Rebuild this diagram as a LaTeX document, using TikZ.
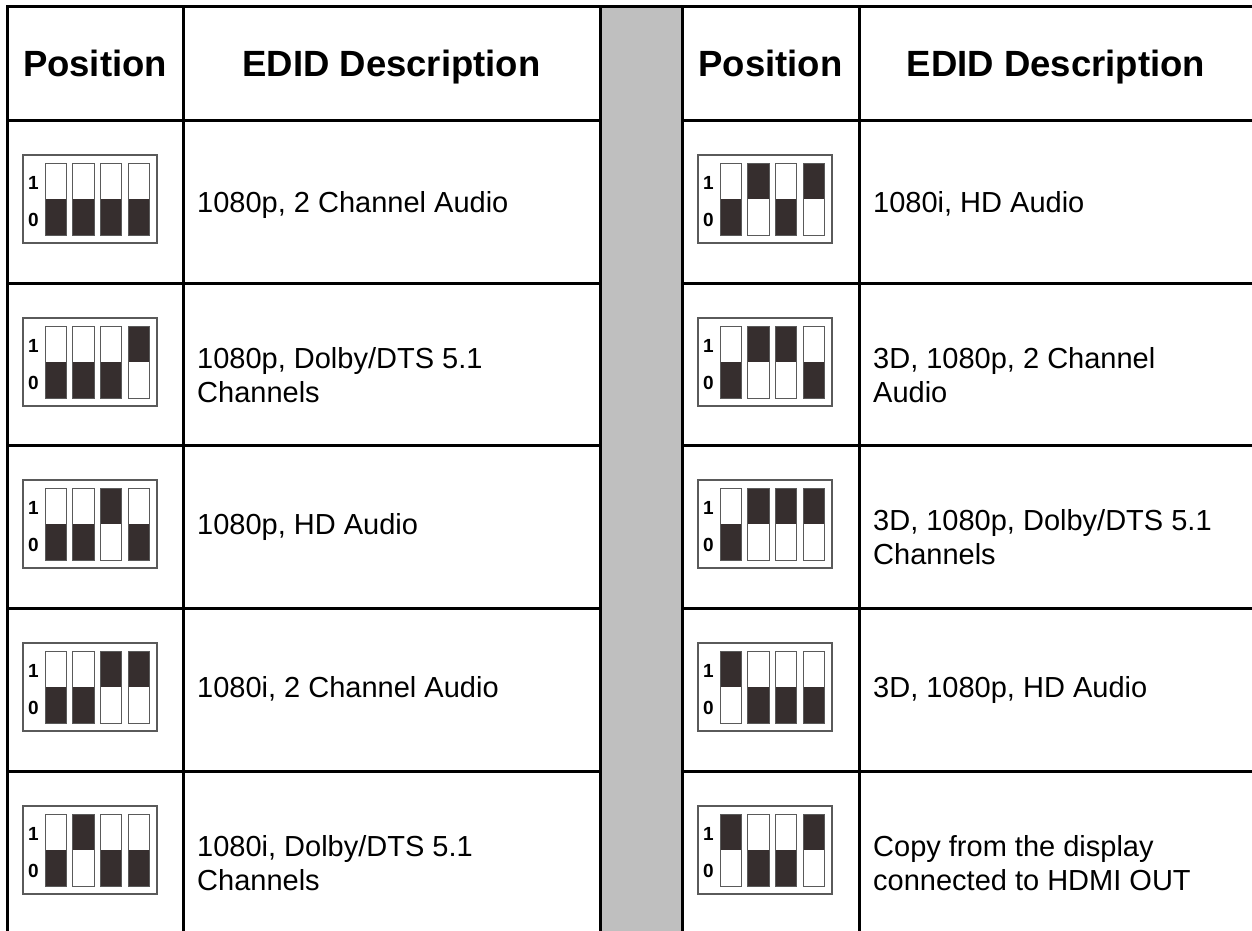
\documentclass[tikz,border=0pt]{standalone}
\usepackage{fontspec}
\setmainfont{Liberation Sans}
\definecolor{dipdark}{RGB}{54,46,46}
\definecolor{sepgray}{RGB}{191,191,191}
\definecolor{framegray}{RGB}{90,90,90}
\tikzset{
  rule/.style={line width=3pt, black, line cap=rect},
  headtext/.style={font=\fontsize{36.5}{44}\selectfont\bfseries, inner sep=0pt, anchor=base},
  bodytext/.style={font=\fontsize{29}{34}\selectfont, inner sep=0pt, anchor=west, align=left},
  bodyline/.style={font=\fontsize{29}{34}\selectfont, inner sep=0pt, anchor=base west},
  diglabel/.style={font=\fontsize{19}{20}\selectfont\bfseries, inner sep=0pt},
  iconframe/.style={draw=framegray, line width=1.4pt},
  switchframe/.style={draw=framegray, line width=1pt}
}
\newcommand{\dipicon}[3]{%
  \begin{scope}[shift={(#1,#2)}]
    \fill[white] (0,0) rectangle (134,88);
    \draw[iconframe] (0,0) rectangle (134,88);
    \node[diglabel] at (10.5,28) {1};
    \node[diglabel] at (10.5,65) {0};
    \foreach \s [count=\i from 0] in {#3} {
      \pgfmathsetmacro\xa{22+27.7*\i}
      \ifnum\s=1
        \fill[dipdark] (\xa,8) rectangle ++(21.5,36);
      \else
        \fill[dipdark] (\xa,44) rectangle ++(21.5,36);
      \fi
      \draw[switchframe] (\xa,8) rectangle ++(21.5,72);
    }
  \end{scope}}
\begin{document}
\begin{tikzpicture}[x=1pt,y=-1pt]
\useasboundingbox (0,0) rectangle (1252,930);
% separator column
\fill[sepgray] (600,6) rectangle (682,935);
% rules
\draw[rule] (7,6) -- (1254,6);
\foreach \xx in {7,183,600,682,859} \draw[rule] (\xx,6) -- (\xx,935);
\foreach \yy in {120,283,445,608,771} {
  \draw[rule] (7,\yy) -- (600,\yy);
  \draw[rule] (682,\yy) -- (1254,\yy);
}
% headers
\node[headtext] (hpL) at (95,76) {Position};
\node[headtext] (hdL) at (391.5,76) {EDID Description};
\node[headtext] (hpR) at (770.5,76) {Position};
\node[headtext] (hdR) at (1056,76) {EDID Description};
% icons left
\dipicon{23}{155}{0,0,0,0}
\dipicon{23}{318}{0,0,0,1}
\dipicon{23}{480}{0,0,1,0}
\dipicon{23}{643}{0,0,1,1}
\dipicon{23}{806}{0,1,0,0}
% icons right
\dipicon{698}{155}{0,1,0,1}
\dipicon{698}{318}{0,1,1,0}
\dipicon{698}{480}{0,1,1,1}
\dipicon{698}{643}{1,0,0,0}
\dipicon{698}{806}{1,0,0,1}
% texts left
\node[bodyline] (tL1) at (197,212) {1080p, 2 Channel Audio};
\node[bodytext] (tL2) at (197,375) {1080p, Dolby/DTS 5.1\\Channels};
\node[bodyline] (tL3) at (197,534) {1080p, HD Audio};
\node[bodyline] (tL4) at (197,697) {1080i, 2 Channel Audio};
\node[bodytext] (tL5) at (197,863) {1080i, Dolby/DTS 5.1\\Channels};
% texts right
\node[bodyline] (tR1) at (873,212) {1080i, HD Audio};
\node[bodytext] (tR2) at (873,375) {3D, 1080p, 2 Channel\\Audio};
\node[bodytext] (tR3) at (873,537) {3D, 1080p, Dolby/DTS 5.1\\Channels};
\node[bodyline] (tR4) at (873,697) {3D, 1080p, HD Audio};
\node[bodytext] (tR5) at (873,863) {Copy from the display\\connected to HDMI OUT};
\end{tikzpicture}
\end{document}
